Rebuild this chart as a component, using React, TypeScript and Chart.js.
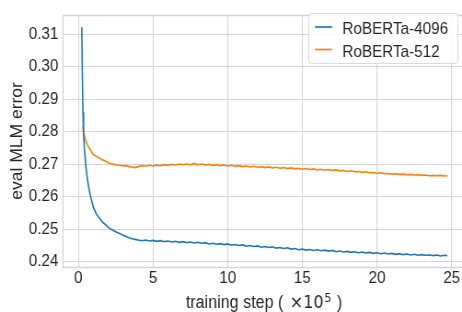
import React, { useEffect, useRef } from "react";
import { Chart, registerables } from "chart.js";

Chart.register(...registerables);

const seriesLabels = ["RoBERTa-4096", "RoBERTa-512"];
const seriesColors = ["#1f77b4", "#ff7f0e"];
const xTickValues = [0, 5, 10, 15, 20, 25];
const yTickValues = [0.24, 0.25, 0.26, 0.27, 0.28, 0.29, 0.3, 0.31];
const xTitleText = "training step ( ";
const xTitleMath = "×10";
const xTitleExp = "5";
const xTitleEnd = " )";
const yTitle = "eval MLM error";

const blueSteps = [
  0.23, 0.27, 0.31, 0.35, 0.4, 0.5, 0.6, 0.7, 0.8, 0.9, 1.0, 1.2, 1.4, 1.6, 1.8, 2.0, 2.2, 2.4, 2.6, 2.8, 3.0, 3.2, 3.4, 3.6, 3.8,
  4.0, 4.25, 4.5, 4.75, 5.0, 5.25, 5.5, 5.75, 6.0, 6.25, 6.5, 6.75, 7.0, 7.25, 7.5, 7.75, 8.0, 8.25, 8.5, 8.75,
  9.0, 9.25, 9.5, 9.75, 10.0, 10.25, 10.5, 10.75, 11.0, 11.25, 11.5, 11.75, 12.0, 12.25, 12.5, 12.75,
  13.0, 13.25, 13.5, 13.75, 14.0, 14.25, 14.5, 14.75, 15.0, 15.25, 15.5, 15.75, 16.0, 16.25, 16.5, 16.75,
  17.0, 17.25, 17.5, 17.75, 18.0, 18.25, 18.5, 18.75, 19.0, 19.25, 19.5, 19.75, 20.0, 20.25, 20.5, 20.75,
  21.0, 21.25, 21.5, 21.75, 22.0, 22.25, 22.5, 22.75, 23.0, 23.25, 23.5, 23.75, 24.0, 24.25, 24.5, 24.7,
];
const blueError = [
  0.3122, 0.297, 0.286, 0.2795, 0.2752, 0.2695, 0.2657, 0.2628, 0.2605, 0.2587, 0.2568, 0.2548, 0.2535, 0.2523, 0.2515, 0.2506, 0.25, 0.2495, 0.249, 0.2486, 0.2482, 0.2478, 0.2474, 0.2471, 0.2469,
  0.2467, 0.2465, 0.2467, 0.2464, 0.2466, 0.2463, 0.2465, 0.2462, 0.2464, 0.2461, 0.2463, 0.246, 0.2462, 0.2459, 0.2461, 0.2458, 0.246, 0.2457, 0.2459, 0.2455,
  0.2457, 0.2454, 0.2456, 0.2453, 0.2455, 0.2451, 0.2453, 0.245, 0.2452, 0.2448, 0.245, 0.2447, 0.2449, 0.2445, 0.2447, 0.2444,
  0.2446, 0.2442, 0.2444, 0.2441, 0.2443, 0.2439, 0.2441, 0.2437, 0.2439, 0.2436, 0.2438, 0.2435, 0.2437, 0.2434, 0.2436, 0.2433,
  0.2435, 0.2431, 0.2433, 0.243, 0.2432, 0.2429, 0.2431, 0.2428, 0.243, 0.2427, 0.2429, 0.2426, 0.2428, 0.2425, 0.2427, 0.2424,
  0.2426, 0.2423, 0.2425, 0.2422, 0.2424, 0.2421, 0.2423, 0.242, 0.2422, 0.242, 0.2421, 0.2419, 0.2421, 0.2418, 0.242, 0.2419,
];

const orangeSteps = [
  0.3, 0.35, 0.4, 0.5, 0.6, 0.7, 0.8, 0.9, 1.0, 1.2, 1.4, 1.6, 1.8, 2.0, 2.2, 2.4, 2.6, 2.8, 3.0, 3.2, 3.4, 3.6, 3.8,
  4.0, 4.25, 4.5, 4.75, 5.0, 5.25, 5.5, 5.75, 6.0, 6.25, 6.5, 6.75, 7.0, 7.25, 7.5, 7.75, 8.0, 8.25, 8.5, 8.75,
  9.0, 9.25, 9.5, 9.75, 10.0, 10.25, 10.5, 10.75, 11.0, 11.25, 11.5, 11.75, 12.0, 12.25, 12.5, 12.75,
  13.0, 13.25, 13.5, 13.75, 14.0, 14.25, 14.5, 14.75, 15.0, 15.25, 15.5, 15.75, 16.0, 16.25, 16.5, 16.75,
  17.0, 17.25, 17.5, 17.75, 18.0, 18.25, 18.5, 18.75, 19.0, 19.25, 19.5, 19.75, 20.0, 20.25, 20.5, 20.75,
  21.0, 21.25, 21.5, 21.75, 22.0, 22.25, 22.5, 22.75, 23.0, 23.25, 23.5, 23.75, 24.0, 24.25, 24.5, 24.7,
];
const orangeError = [
  0.2817, 0.2802, 0.279, 0.2772, 0.276, 0.2752, 0.2745, 0.2737, 0.273, 0.2725, 0.2719, 0.2714, 0.271, 0.2705, 0.2702, 0.27, 0.2698, 0.2697, 0.2695, 0.2696, 0.2693, 0.2692, 0.269,
  0.2693, 0.2696, 0.2694, 0.2697, 0.2695, 0.2698, 0.2696, 0.2699, 0.2697, 0.27, 0.2698, 0.2701, 0.2699, 0.2701, 0.2699, 0.2703, 0.2699, 0.2701, 0.2698, 0.27,
  0.2697, 0.2699, 0.2696, 0.2698, 0.2695, 0.2697, 0.2694, 0.2696, 0.2693, 0.2695, 0.2692, 0.2694, 0.2691, 0.2693, 0.269, 0.2692,
  0.2689, 0.2691, 0.2688, 0.269, 0.2687, 0.2689, 0.2686, 0.2688, 0.2685, 0.2687, 0.2684, 0.2686, 0.2683, 0.2685, 0.2682, 0.2684,
  0.2681, 0.2683, 0.268, 0.2681, 0.2678, 0.268, 0.2677, 0.2678, 0.2675, 0.2677, 0.2674, 0.2675, 0.2672, 0.2674, 0.2671, 0.2672,
  0.267, 0.2671, 0.2669, 0.267, 0.2668, 0.2669, 0.2667, 0.2668, 0.2666, 0.2667, 0.2665, 0.2666, 0.2665, 0.2666, 0.2664, 0.2665,
];

const FONT_FAMILY = "'Liberation Sans', Arial, Helvetica, sans-serif";
const MATH_FAMILY = "'DejaVu Sans', sans-serif";
const TEXT_COLOR = "#262626";
const GRID_COLOR = "#d4d4d4";
const CANVAS_W = 502;
const CANVAS_H = 312;
const SQUEEZE = 462 / CANVAS_W;

export default function App() {
  const ref = useRef<HTMLCanvasElement | null>(null);

  useEffect(() => {
    if (!ref.current) return;
    const tickFont = { family: FONT_FAMILY, size: 16.5 };
    const labelFont = { family: FONT_FAMILY, size: 17.5 };

    const framePlugin = {
      id: "frame",
      beforeDatasetsDraw(chart: any) {
        const { ctx, chartArea } = chart;
        const l = Math.round(chartArea.left) + 0.5;
        const t = Math.round(chartArea.top) + 0.5;
        const b = Math.round(chartArea.bottom) + 0.5;
        const r = chartArea.right + 4;
        ctx.save();
        ctx.strokeStyle = GRID_COLOR;
        ctx.lineWidth = 1.3;
        ctx.beginPath();
        ctx.moveTo(r, t);
        ctx.lineTo(l, t);
        ctx.lineTo(l, b);
        ctx.lineTo(r, b);
        ctx.stroke();
        ctx.restore();
      },
    };

    const xTitlePlugin = {
      id: "xTitle",
      afterDraw(chart: any) {
        const { ctx } = chart;
        const baseY = 307.5;
        const mainFont = `17.5px ${FONT_FAMILY}`;
        const mathFont = `17.5px ${MATH_FAMILY}`;
        const expFont = `12.5px ${MATH_FAMILY}`;
        ctx.save();
        ctx.fillStyle = TEXT_COLOR;
        ctx.textBaseline = "alphabetic";
        ctx.textAlign = "left";
        ctx.font = mainFont;
        const w1 = ctx.measureText(xTitleText).width + 2;
        const w4 = ctx.measureText(xTitleEnd).width + 1;
        ctx.font = mathFont;
        const w2 = ctx.measureText(xTitleMath).width + 0.5;
        ctx.font = expFont;
        const w3 = ctx.measureText(xTitleExp).width;
        const total = w1 + w2 + w3 + w4;
        let x = 286.9 - total / 2;
        ctx.font = mainFont;
        ctx.fillText(xTitleText, x, baseY);
        x += w1;
        ctx.font = mathFont;
        ctx.fillText(xTitleMath, x, baseY);
        x += w2;
        ctx.font = expFont;
        ctx.fillText(xTitleExp, x, baseY - 5.6);
        x += w3 + 1;
        ctx.font = mainFont;
        ctx.fillText(xTitleEnd, x, baseY);
        ctx.restore();
      },
    };

    const legendPlugin = {
      id: "insideLegend",
      afterDraw(chart: any) {
        const { ctx } = chart;
        const x0 = 335.5;
        const y0 = 13.5;
        const w = 162;
        const h = 50;
        ctx.save();
        ctx.beginPath();
        (ctx as any).roundRect(x0, y0, w, h, 3);
        ctx.fillStyle = "rgba(255,255,255,0.85)";
        ctx.fill();
        ctx.strokeStyle = "#d9d9d9";
        ctx.lineWidth = 1;
        ctx.stroke();
        chart.data.datasets.forEach((ds: any, i: number) => {
          const ly = 27 + i * 22.5;
          ctx.strokeStyle = ds.borderColor;
          ctx.lineWidth = 1.7;
          ctx.beginPath();
          ctx.moveTo(342.3, ly);
          ctx.lineTo(360.8, ly);
          ctx.stroke();
          ctx.fillStyle = TEXT_COLOR;
          ctx.font = `16.6px ${FONT_FAMILY}`;
          ctx.textBaseline = "alphabetic";
          ctx.textAlign = "left";
          ctx.fillText(ds.label, 372, 34 + i * 22.7);
        });
        ctx.restore();
      },
    };

    const chart = new Chart(ref.current, {
      type: "line",
      data: {
        datasets: [
          {
            label: seriesLabels[0],
            data: blueSteps.map((x, i) => ({ x, y: blueError[i] })),
            borderColor: seriesColors[0],
            backgroundColor: seriesColors[0],
            borderWidth: 1.6,
            pointRadius: 0,
            tension: 0,
            fill: false,
          },
          {
            label: seriesLabels[1],
            data: orangeSteps.map((x, i) => ({ x, y: orangeError[i] })),
            borderColor: seriesColors[1],
            backgroundColor: seriesColors[1],
            borderWidth: 1.6,
            pointRadius: 0,
            tension: 0,
            fill: false,
          },
        ],
      },
      options: {
        animation: false,
        responsive: false,
        devicePixelRatio: 1,
        layout: { padding: { top: 6, right: 0, left: 0, bottom: 0 } },
        plugins: {
          legend: { display: false },
          tooltip: { enabled: false },
        },
        scales: {
          x: {
            type: "linear",
            min: -1.025,
            max: 25.68,
            afterBuildTicks: (s: any) => {
              s.ticks = xTickValues.map((v) => ({ value: v }));
            },
            afterFit: (s: any) => {
              s.height = 45;
            },
            grid: { color: GRID_COLOR, lineWidth: 1.1, drawTicks: false },
            border: { display: false },
            ticks: {
              font: tickFont,
              color: TEXT_COLOR,
              padding: 2,
              maxRotation: 0,
              autoSkip: false,
              callback: (v: any) => String(v),
            },
            title: { display: false, text: "training step ( ×10⁵ )" },
          },
          y: {
            type: "linear",
            min: 0.2384,
            max: 0.316,
            afterBuildTicks: (s: any) => {
              s.ticks = yTickValues.map((v) => ({ value: v }));
            },
            afterFit: (s: any) => {
              s.width = 68.46;
            },
            grid: { color: GRID_COLOR, lineWidth: 1.1, drawTicks: false },
            border: { display: false },
            ticks: {
              font: tickFont,
              color: TEXT_COLOR,
              padding: 5,
              autoSkip: false,
              callback: (v: any) => Number(v).toFixed(2),
            },
            title: {
              display: true,
              text: yTitle,
              font: labelFont,
              color: TEXT_COLOR,
              padding: { top: 8.2, bottom: 0 },
            },
          },
        },
      },
      plugins: [framePlugin, xTitlePlugin, legendPlugin],
    } as any);

    return () => chart.destroy();
  }, []);

  return (
    <div style={{ position: "absolute", left: 0, top: 0, width: 462, height: 312, overflow: "hidden", background: "#fff" }}>
      <div
        style={{
          width: CANVAS_W,
          height: CANVAS_H,
          transform: `scaleX(${SQUEEZE})`,
          transformOrigin: "0 0",
        }}
      >
        <canvas
          ref={ref}
          width={CANVAS_W}
          height={CANVAS_H}
          style={{ display: "block", width: CANVAS_W, height: CANVAS_H }}
        />
      </div>
    </div>
  );
}
